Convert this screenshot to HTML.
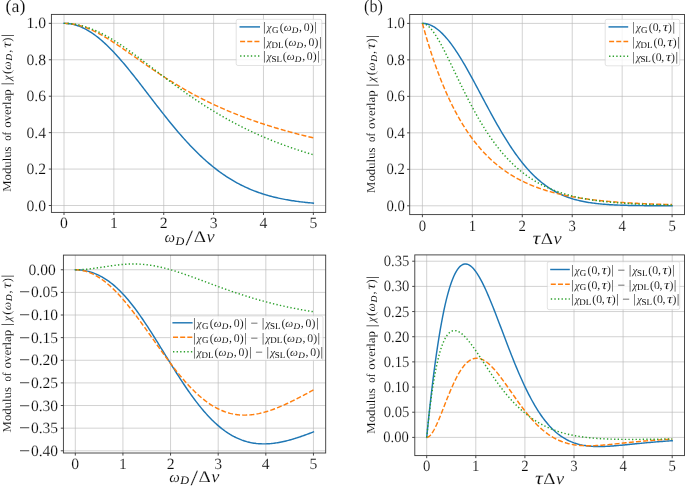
<!DOCTYPE html>
<html lang="en"><head><meta charset="utf-8"><title>Modulus of overlap</title>
<style>html,body{margin:0;padding:0;background:#fff}svg{display:block;will-change:transform}text{fill:#0a0a0a;stroke:#fff;stroke-width:.14px;text-rendering:geometricPrecision}.sm text{stroke-width:.08px}text.sub{stroke:none}</style></head>
<body>
<svg width="685" height="486" viewBox="0 0 685 486" font-family="'Liberation Serif', serif" fill="#000">
<rect width="685" height="486" fill="#fff"/>
<path d="M64.00 14.40V212.40M113.87 14.40V212.40M163.74 14.40V212.40M213.61 14.40V212.40M263.48 14.40V212.40M313.35 14.40V212.40M51.40 205.50H325.70M51.40 169.07H325.70M51.40 132.64H325.70M51.40 96.21H325.70M51.40 59.78H325.70M51.40 23.35H325.70" stroke="#bababa" stroke-width="0.65" fill="none"/>
<path d="M64.00 23.35L65.25 23.37L66.49 23.43L67.74 23.53L68.99 23.67L70.23 23.84L71.48 24.06L72.73 24.31L73.97 24.61L75.22 24.94L76.47 25.31L77.71 25.72L78.96 26.17L80.21 26.65L81.45 27.18L82.70 27.74L83.95 28.33L85.19 28.96L86.44 29.63L87.69 30.33L88.94 31.07L90.18 31.85L91.43 32.65L92.68 33.49L93.92 34.37L95.17 35.27L96.42 36.21L97.66 37.18L98.91 38.18L100.16 39.21L101.40 40.27L102.65 41.36L103.90 42.47L105.14 43.61L106.39 44.79L107.64 45.98L108.88 47.20L110.13 48.45L111.38 49.72L112.62 51.01L113.87 52.33L115.12 53.67L116.36 55.03L117.61 56.41L118.86 57.80L120.10 59.22L121.35 60.66L122.60 62.11L123.84 63.58L125.09 65.06L126.34 66.56L127.58 68.07L128.83 69.59L130.08 71.13L131.32 72.68L132.57 74.24L133.82 75.80L135.06 77.38L136.31 78.97L137.56 80.56L138.81 82.16L140.05 83.77L141.30 85.38L142.55 86.99L143.79 88.61L145.04 90.23L146.29 91.86L147.53 93.48L148.78 95.11L150.03 96.73L151.27 98.36L152.52 99.98L153.77 101.60L155.01 103.22L156.26 104.84L157.51 106.45L158.75 108.06L160.00 109.66L161.25 111.25L162.49 112.84L163.74 114.42L164.99 116.00L166.23 117.57L167.48 119.12L168.73 120.67L169.97 122.21L171.22 123.74L172.47 125.26L173.71 126.76L174.96 128.26L176.21 129.74L177.45 131.21L178.70 132.67L179.95 134.11L181.19 135.54L182.44 136.96L183.69 138.37L184.93 139.75L186.18 141.13L187.43 142.49L188.68 143.83L189.92 145.16L191.17 146.47L192.42 147.77L193.66 149.05L194.91 150.31L196.16 151.56L197.40 152.79L198.65 154.00L199.90 155.20L201.14 156.38L202.39 157.54L203.64 158.68L204.88 159.81L206.13 160.92L207.38 162.01L208.62 163.09L209.87 164.14L211.12 165.18L212.36 166.20L213.61 167.21L214.86 168.19L216.10 169.16L217.35 170.11L218.60 171.05L219.84 171.97L221.09 172.86L222.34 173.75L223.58 174.61L224.83 175.46L226.08 176.29L227.32 177.10L228.57 177.90L229.82 178.68L231.06 179.45L232.31 180.20L233.56 180.93L234.80 181.64L236.05 182.34L237.30 183.03L238.54 183.70L239.79 184.35L241.04 184.99L242.29 185.61L243.53 186.22L244.78 186.81L246.03 187.39L247.27 187.96L248.52 188.51L249.77 189.05L251.01 189.57L252.26 190.08L253.51 190.58L254.75 191.07L256.00 191.54L257.25 192.00L258.49 192.45L259.74 192.88L260.99 193.30L262.23 193.72L263.48 194.12L264.73 194.50L265.97 194.88L267.22 195.25L268.47 195.61L269.71 195.95L270.96 196.29L272.21 196.62L273.45 196.93L274.70 197.24L275.95 197.54L277.19 197.83L278.44 198.11L279.69 198.38L280.93 198.64L282.18 198.89L283.43 199.14L284.67 199.38L285.92 199.61L287.17 199.83L288.41 200.05L289.66 200.26L290.91 200.46L292.16 200.66L293.40 200.84L294.65 201.03L295.90 201.20L297.14 201.37L298.39 201.54L299.64 201.70L300.88 201.85L302.13 202.00L303.38 202.14L304.62 202.28L305.87 202.41L307.12 202.54L308.36 202.66L309.61 202.78L310.86 202.89L312.10 203.00L313.35 203.11" stroke="#1f77b4" stroke-width="1.45" fill="none" stroke-linejoin="round" stroke-linecap="square"/>
<path d="M64.00 23.35L65.25 23.36L66.49 23.41L67.74 23.48L68.99 23.58L70.23 23.70L71.48 23.86L72.73 24.04L73.97 24.25L75.22 24.49L76.47 24.76L77.71 25.05L78.96 25.37L80.21 25.71L81.45 26.08L82.70 26.47L83.95 26.89L85.19 27.33L86.44 27.79L87.69 28.28L88.94 28.79L90.18 29.32L91.43 29.87L92.68 30.44L93.92 31.03L95.17 31.64L96.42 32.27L97.66 32.91L98.91 33.58L100.16 34.25L101.40 34.95L102.65 35.66L103.90 36.38L105.14 37.11L106.39 37.86L107.64 38.62L108.88 39.39L110.13 40.18L111.38 40.97L112.62 41.77L113.87 42.58L115.12 43.40L116.36 44.22L117.61 45.06L118.86 45.90L120.10 46.74L121.35 47.59L122.60 48.45L123.84 49.31L125.09 50.17L126.34 51.04L127.58 51.91L128.83 52.78L130.08 53.65L131.32 54.53L132.57 55.40L133.82 56.28L135.06 57.15L136.31 58.03L137.56 58.91L138.81 59.78L140.05 60.65L141.30 61.53L142.55 62.40L143.79 63.26L145.04 64.13L146.29 64.99L147.53 65.86L148.78 66.71L150.03 67.57L151.27 68.42L152.52 69.27L153.77 70.11L155.01 70.95L156.26 71.78L157.51 72.61L158.75 73.44L160.00 74.26L161.25 75.08L162.49 75.89L163.74 76.70L164.99 77.50L166.23 78.30L167.48 79.09L168.73 79.88L169.97 80.66L171.22 81.44L172.47 82.21L173.71 82.97L174.96 83.73L176.21 84.49L177.45 85.23L178.70 85.98L179.95 86.71L181.19 87.45L182.44 88.17L183.69 88.89L184.93 89.60L186.18 90.31L187.43 91.02L188.68 91.71L189.92 92.40L191.17 93.09L192.42 93.77L193.66 94.44L194.91 95.11L196.16 95.77L197.40 96.43L198.65 97.08L199.90 97.72L201.14 98.36L202.39 99.00L203.64 99.63L204.88 100.25L206.13 100.87L207.38 101.48L208.62 102.09L209.87 102.69L211.12 103.29L212.36 103.88L213.61 104.46L214.86 105.04L216.10 105.62L217.35 106.19L218.60 106.75L219.84 107.31L221.09 107.87L222.34 108.42L223.58 108.96L224.83 109.50L226.08 110.04L227.32 110.57L228.57 111.09L229.82 111.61L231.06 112.13L232.31 112.64L233.56 113.15L234.80 113.65L236.05 114.15L237.30 114.64L238.54 115.13L239.79 115.61L241.04 116.09L242.29 116.57L243.53 117.04L244.78 117.51L246.03 117.97L247.27 118.43L248.52 118.88L249.77 119.34L251.01 119.78L252.26 120.23L253.51 120.66L254.75 121.10L256.00 121.53L257.25 121.96L258.49 122.38L259.74 122.80L260.99 123.22L262.23 123.63L263.48 124.04L264.73 124.45L265.97 124.85L267.22 125.25L268.47 125.64L269.71 126.03L270.96 126.42L272.21 126.81L273.45 127.19L274.70 127.57L275.95 127.94L277.19 128.31L278.44 128.68L279.69 129.05L280.93 129.41L282.18 129.77L283.43 130.13L284.67 130.48L285.92 130.83L287.17 131.18L288.41 131.52L289.66 131.86L290.91 132.20L292.16 132.54L293.40 132.87L294.65 133.20L295.90 133.53L297.14 133.86L298.39 134.18L299.64 134.50L300.88 134.82L302.13 135.13L303.38 135.44L304.62 135.75L305.87 136.06L307.12 136.36L308.36 136.67L309.61 136.97L310.86 137.26L312.10 137.56L313.35 137.85" stroke="#ff7f0e" stroke-width="1.45" fill="none" stroke-linejoin="round" stroke-linecap="butt" stroke-dasharray="5.00 2.16"/>
<path d="M64.00 23.35L65.25 23.36L66.49 23.40L67.74 23.46L68.99 23.54L70.23 23.64L71.48 23.77L72.73 23.93L73.97 24.10L75.22 24.30L76.47 24.52L77.71 24.77L78.96 25.03L80.21 25.32L81.45 25.63L82.70 25.96L83.95 26.32L85.19 26.69L86.44 27.09L87.69 27.51L88.94 27.95L90.18 28.40L91.43 28.88L92.68 29.38L93.92 29.90L95.17 30.43L96.42 30.99L97.66 31.56L98.91 32.15L100.16 32.75L101.40 33.38L102.65 34.02L103.90 34.67L105.14 35.34L106.39 36.03L107.64 36.73L108.88 37.45L110.13 38.18L111.38 38.92L112.62 39.67L113.87 40.44L115.12 41.22L116.36 42.01L117.61 42.82L118.86 43.63L120.10 44.46L121.35 45.29L122.60 46.13L123.84 46.99L125.09 47.85L126.34 48.72L127.58 49.59L128.83 50.48L130.08 51.37L131.32 52.27L132.57 53.17L133.82 54.08L135.06 55.00L136.31 55.92L137.56 56.84L138.81 57.77L140.05 58.70L141.30 59.64L142.55 60.58L143.79 61.52L145.04 62.46L146.29 63.41L147.53 64.36L148.78 65.31L150.03 66.26L151.27 67.21L152.52 68.16L153.77 69.11L155.01 70.06L156.26 71.01L157.51 71.96L158.75 72.91L160.00 73.86L161.25 74.81L162.49 75.76L163.74 76.70L164.99 77.64L166.23 78.58L167.48 79.52L168.73 80.45L169.97 81.39L171.22 82.32L172.47 83.24L173.71 84.16L174.96 85.08L176.21 86.00L177.45 86.91L178.70 87.82L179.95 88.72L181.19 89.62L182.44 90.51L183.69 91.40L184.93 92.29L186.18 93.17L187.43 94.05L188.68 94.92L189.92 95.79L191.17 96.65L192.42 97.50L193.66 98.35L194.91 99.20L196.16 100.04L197.40 100.88L198.65 101.71L199.90 102.53L201.14 103.35L202.39 104.16L203.64 104.97L204.88 105.77L206.13 106.57L207.38 107.36L208.62 108.14L209.87 108.92L211.12 109.69L212.36 110.46L213.61 111.22L214.86 111.97L216.10 112.72L217.35 113.47L218.60 114.20L219.84 114.94L221.09 115.66L222.34 116.38L223.58 117.09L224.83 117.80L226.08 118.50L227.32 119.20L228.57 119.89L229.82 120.58L231.06 121.25L232.31 121.93L233.56 122.59L234.80 123.26L236.05 123.91L237.30 124.56L238.54 125.21L239.79 125.84L241.04 126.48L242.29 127.10L243.53 127.73L244.78 128.34L246.03 128.95L247.27 129.56L248.52 130.16L249.77 130.75L251.01 131.34L252.26 131.92L253.51 132.50L254.75 133.08L256.00 133.64L257.25 134.21L258.49 134.76L259.74 135.32L260.99 135.86L262.23 136.40L263.48 136.94L264.73 137.47L265.97 138.00L267.22 138.52L268.47 139.04L269.71 139.55L270.96 140.06L272.21 140.56L273.45 141.06L274.70 141.55L275.95 142.04L277.19 142.53L278.44 143.01L279.69 143.48L280.93 143.95L282.18 144.42L283.43 144.88L284.67 145.34L285.92 145.79L287.17 146.24L288.41 146.68L289.66 147.12L290.91 147.56L292.16 147.99L293.40 148.42L294.65 148.84L295.90 149.26L297.14 149.68L298.39 150.09L299.64 150.50L300.88 150.91L302.13 151.31L303.38 151.70L304.62 152.10L305.87 152.49L307.12 152.87L308.36 153.25L309.61 153.63L310.86 154.01L312.10 154.38L313.35 154.75" stroke="#2ca02c" stroke-width="1.45" fill="none" stroke-linejoin="round" stroke-linecap="butt" stroke-dasharray="1.35 2.23"/>
<path d="M64.00 212.40v2.6M113.87 212.40v2.6M163.74 212.40v2.6M213.61 212.40v2.6M263.48 212.40v2.6M313.35 212.40v2.6M51.40 205.50h-2.6M51.40 169.07h-2.6M51.40 132.64h-2.6M51.40 96.21h-2.6M51.40 59.78h-2.6M51.40 23.35h-2.6" stroke="#1a1a1a" stroke-width="0.8" fill="none"/>
<rect x="51.40" y="14.40" width="274.30" height="198.00" fill="none" stroke="#383838" stroke-width="0.9"/>
<text x="60.08" y="227.70" font-size="15.70" text-anchor="start" textLength="7.85" lengthAdjust="spacingAndGlyphs">0</text>
<text x="109.95" y="227.70" font-size="15.70" text-anchor="start" textLength="7.85" lengthAdjust="spacingAndGlyphs">1</text>
<text x="159.81" y="227.70" font-size="15.70" text-anchor="start" textLength="7.85" lengthAdjust="spacingAndGlyphs">2</text>
<text x="209.68" y="227.70" font-size="15.70" text-anchor="start" textLength="7.85" lengthAdjust="spacingAndGlyphs">3</text>
<text x="259.56" y="227.70" font-size="15.70" text-anchor="start" textLength="7.85" lengthAdjust="spacingAndGlyphs">4</text>
<text x="309.43" y="227.70" font-size="15.70" text-anchor="start" textLength="7.85" lengthAdjust="spacingAndGlyphs">5</text>
<text x="46.00" y="210.50" font-size="15.70" text-anchor="end" textLength="19.55" lengthAdjust="spacingAndGlyphs">0.0</text>
<text x="46.00" y="174.07" font-size="15.70" text-anchor="end" textLength="19.55" lengthAdjust="spacingAndGlyphs">0.2</text>
<text x="46.00" y="137.64" font-size="15.70" text-anchor="end" textLength="19.55" lengthAdjust="spacingAndGlyphs">0.4</text>
<text x="46.00" y="101.21" font-size="15.70" text-anchor="end" textLength="19.55" lengthAdjust="spacingAndGlyphs">0.6</text>
<text x="46.00" y="64.78" font-size="15.70" text-anchor="end" textLength="19.55" lengthAdjust="spacingAndGlyphs">0.8</text>
<text x="46.00" y="28.35" font-size="15.70" text-anchor="end" textLength="19.55" lengthAdjust="spacingAndGlyphs">1.0</text>
<path d="M422.40 14.50V214.60M472.34 14.50V214.60M522.28 14.50V214.60M572.22 14.50V214.60M622.16 14.50V214.60M672.10 14.50V214.60M409.70 205.80H684.50M409.70 169.32H684.50M409.70 132.84H684.50M409.70 96.36H684.50M409.70 59.88H684.50M409.70 23.40H684.50" stroke="#bababa" stroke-width="0.65" fill="none"/>
<path d="M422.40 23.40L423.65 23.44L424.90 23.56L426.15 23.77L427.39 24.06L428.64 24.43L429.89 24.87L431.14 25.40L432.39 26.01L433.64 26.70L434.88 27.47L436.13 28.31L437.38 29.23L438.63 30.22L439.88 31.28L441.13 32.42L442.38 33.63L443.62 34.90L444.87 36.25L446.12 37.66L447.37 39.13L448.62 40.66L449.87 42.25L451.12 43.90L452.36 45.61L453.61 47.37L454.86 49.18L456.11 51.04L457.36 52.95L458.61 54.90L459.85 56.89L461.10 58.93L462.35 61.00L463.60 63.10L464.85 65.24L466.10 67.41L467.35 69.61L468.59 71.83L469.84 74.08L471.09 76.34L472.34 78.63L473.59 80.93L474.84 83.25L476.09 85.57L477.33 87.91L478.58 90.25L479.83 92.59L481.08 94.94L482.33 97.29L483.58 99.64L484.82 101.98L486.07 104.32L487.32 106.65L488.57 108.97L489.82 111.27L491.07 113.57L492.32 115.85L493.56 118.11L494.81 120.35L496.06 122.58L497.31 124.78L498.56 126.96L499.81 129.12L501.06 131.25L502.30 133.35L503.55 135.43L504.80 137.48L506.05 139.49L507.30 141.48L508.55 143.44L509.79 145.36L511.04 147.25L512.29 149.11L513.54 150.93L514.79 152.72L516.04 154.47L517.29 156.19L518.53 157.87L519.78 159.52L521.03 161.13L522.28 162.70L523.53 164.24L524.78 165.74L526.03 167.20L527.27 168.63L528.52 170.01L529.77 171.37L531.02 172.68L532.27 173.97L533.52 175.21L534.76 176.42L536.01 177.60L537.26 178.74L538.51 179.84L539.76 180.91L541.01 181.95L542.26 182.96L543.50 183.93L544.75 184.87L546.00 185.78L547.25 186.66L548.50 187.50L549.75 188.32L551.00 189.11L552.24 189.87L553.49 190.61L554.74 191.31L555.99 191.99L557.24 192.64L558.49 193.27L559.73 193.88L560.98 194.45L562.23 195.01L563.48 195.54L564.73 196.06L565.98 196.55L567.23 197.02L568.47 197.47L569.72 197.90L570.97 198.31L572.22 198.70L573.47 199.08L574.72 199.43L575.97 199.78L577.21 200.10L578.46 200.41L579.71 200.71L580.96 200.99L582.21 201.26L583.46 201.52L584.70 201.76L585.95 201.99L587.20 202.21L588.45 202.42L589.70 202.61L590.95 202.80L592.20 202.98L593.44 203.15L594.69 203.31L595.94 203.46L597.19 203.60L598.44 203.74L599.69 203.86L600.94 203.98L602.18 204.10L603.43 204.21L604.68 204.31L605.93 204.40L607.18 204.49L608.43 204.58L609.67 204.66L610.92 204.73L612.17 204.80L613.42 204.87L614.67 204.93L615.92 204.99L617.17 205.04L618.41 205.10L619.66 205.14L620.91 205.19L622.16 205.23L623.41 205.27L624.66 205.31L625.91 205.34L627.15 205.38L628.40 205.41L629.65 205.43L630.90 205.46L632.15 205.49L633.40 205.51L634.64 205.53L635.89 205.55L637.14 205.57L638.39 205.59L639.64 205.60L640.89 205.62L642.14 205.63L643.38 205.64L644.63 205.66L645.88 205.67L647.13 205.68L648.38 205.69L649.63 205.70L650.88 205.70L652.12 205.71L653.37 205.72L654.62 205.73L655.87 205.73L657.12 205.74L658.37 205.74L659.62 205.75L660.86 205.75L662.11 205.76L663.36 205.76L664.61 205.76L665.86 205.77L667.11 205.77L668.35 205.77L669.60 205.77L670.85 205.78L672.10 205.78" stroke="#1f77b4" stroke-width="1.45" fill="none" stroke-linejoin="round" stroke-linecap="square"/>
<path d="M422.40 23.40L423.65 27.90L424.90 32.30L426.15 36.58L427.39 40.76L428.64 44.83L429.89 48.81L431.14 52.68L432.39 56.46L433.64 60.15L434.88 63.75L436.13 67.25L437.38 70.67L438.63 74.01L439.88 77.26L441.13 80.44L442.38 83.53L443.62 86.55L444.87 89.50L446.12 92.37L447.37 95.17L448.62 97.90L449.87 100.56L451.12 103.16L452.36 105.70L453.61 108.17L454.86 110.58L456.11 112.93L457.36 115.22L458.61 117.46L459.85 119.64L461.10 121.77L462.35 123.84L463.60 125.87L464.85 127.84L466.10 129.76L467.35 131.64L468.59 133.47L469.84 135.26L471.09 137.00L472.34 138.70L473.59 140.36L474.84 141.97L476.09 143.55L477.33 145.08L478.58 146.58L479.83 148.05L481.08 149.47L482.33 150.86L483.58 152.22L484.82 153.54L486.07 154.83L487.32 156.09L488.57 157.32L489.82 158.51L491.07 159.68L492.32 160.82L493.56 161.93L494.81 163.01L496.06 164.07L497.31 165.10L498.56 166.11L499.81 167.09L501.06 168.04L502.30 168.97L503.55 169.88L504.80 170.77L506.05 171.63L507.30 172.48L508.55 173.30L509.79 174.10L511.04 174.89L512.29 175.65L513.54 176.39L514.79 177.12L516.04 177.83L517.29 178.52L518.53 179.19L519.78 179.85L521.03 180.49L522.28 181.11L523.53 181.72L524.78 182.32L526.03 182.90L527.27 183.46L528.52 184.02L529.77 184.55L531.02 185.08L532.27 185.59L533.52 186.09L534.76 186.58L536.01 187.05L537.26 187.51L538.51 187.96L539.76 188.40L541.01 188.83L542.26 189.25L543.50 189.66L544.75 190.06L546.00 190.45L547.25 190.83L548.50 191.20L549.75 191.56L551.00 191.91L552.24 192.25L553.49 192.59L554.74 192.91L555.99 193.23L557.24 193.54L558.49 193.84L559.73 194.14L560.98 194.43L562.23 194.71L563.48 194.98L564.73 195.25L565.98 195.51L567.23 195.76L568.47 196.01L569.72 196.25L570.97 196.49L572.22 196.72L573.47 196.94L574.72 197.16L575.97 197.38L577.21 197.58L578.46 197.79L579.71 197.98L580.96 198.18L582.21 198.36L583.46 198.55L584.70 198.73L585.95 198.90L587.20 199.07L588.45 199.24L589.70 199.40L590.95 199.56L592.20 199.71L593.44 199.86L594.69 200.01L595.94 200.15L597.19 200.29L598.44 200.43L599.69 200.56L600.94 200.69L602.18 200.82L603.43 200.94L604.68 201.06L605.93 201.18L607.18 201.29L608.43 201.40L609.67 201.51L610.92 201.62L612.17 201.72L613.42 201.82L614.67 201.92L615.92 202.01L617.17 202.11L618.41 202.20L619.66 202.29L620.91 202.37L622.16 202.46L623.41 202.54L624.66 202.62L625.91 202.70L627.15 202.78L628.40 202.85L629.65 202.92L630.90 203.00L632.15 203.06L633.40 203.13L634.64 203.20L635.89 203.26L637.14 203.33L638.39 203.39L639.64 203.45L640.89 203.50L642.14 203.56L643.38 203.62L644.63 203.67L645.88 203.72L647.13 203.77L648.38 203.82L649.63 203.87L650.88 203.92L652.12 203.97L653.37 204.01L654.62 204.06L655.87 204.10L657.12 204.14L658.37 204.18L659.62 204.22L660.86 204.26L662.11 204.30L663.36 204.34L664.61 204.37L665.86 204.41L667.11 204.44L668.35 204.48L669.60 204.51L670.85 204.54L672.10 204.57" stroke="#ff7f0e" stroke-width="1.45" fill="none" stroke-linejoin="round" stroke-linecap="butt" stroke-dasharray="5.00 2.16"/>
<path d="M422.40 23.40L423.65 23.53L424.90 23.92L426.15 24.55L427.39 25.39L428.64 26.43L429.89 27.65L431.14 29.04L432.39 30.58L433.64 32.26L434.88 34.07L436.13 35.99L437.38 38.01L438.63 40.13L439.88 42.33L441.13 44.60L442.38 46.94L443.62 49.33L444.87 51.77L446.12 54.25L447.37 56.77L448.62 59.31L449.87 61.88L451.12 64.46L452.36 67.06L453.61 69.66L454.86 72.27L456.11 74.87L457.36 77.47L458.61 80.06L459.85 82.64L461.10 85.21L462.35 87.76L463.60 90.29L464.85 92.80L466.10 95.29L467.35 97.75L468.59 100.18L469.84 102.59L471.09 104.96L472.34 107.31L473.59 109.62L474.84 111.90L476.09 114.14L477.33 116.35L478.58 118.52L479.83 120.66L481.08 122.76L482.33 124.83L483.58 126.86L484.82 128.85L486.07 130.81L487.32 132.72L488.57 134.60L489.82 136.45L491.07 138.25L492.32 140.02L493.56 141.75L494.81 143.45L496.06 145.11L497.31 146.73L498.56 148.32L499.81 149.87L501.06 151.39L502.30 152.87L503.55 154.32L504.80 155.74L506.05 157.12L507.30 158.47L508.55 159.79L509.79 161.07L511.04 162.33L512.29 163.55L513.54 164.75L514.79 165.91L516.04 167.04L517.29 168.15L518.53 169.23L519.78 170.28L521.03 171.30L522.28 172.30L523.53 173.27L524.78 174.22L526.03 175.14L527.27 176.04L528.52 176.91L529.77 177.76L531.02 178.59L532.27 179.39L533.52 180.18L534.76 180.94L536.01 181.68L537.26 182.40L538.51 183.10L539.76 183.78L541.01 184.44L542.26 185.08L543.50 185.71L544.75 186.32L546.00 186.91L547.25 187.48L548.50 188.04L549.75 188.58L551.00 189.11L552.24 189.62L553.49 190.12L554.74 190.60L555.99 191.07L557.24 191.52L558.49 191.96L559.73 192.39L560.98 192.81L562.23 193.21L563.48 193.60L564.73 193.98L565.98 194.35L567.23 194.71L568.47 195.06L569.72 195.39L570.97 195.72L572.22 196.04L573.47 196.35L574.72 196.64L575.97 196.93L577.21 197.21L578.46 197.49L579.71 197.75L580.96 198.00L582.21 198.25L583.46 198.49L584.70 198.73L585.95 198.95L587.20 199.17L588.45 199.38L589.70 199.59L590.95 199.79L592.20 199.98L593.44 200.17L594.69 200.35L595.94 200.52L597.19 200.69L598.44 200.86L599.69 201.02L600.94 201.17L602.18 201.32L603.43 201.47L604.68 201.61L605.93 201.75L607.18 201.88L608.43 202.01L609.67 202.13L610.92 202.25L612.17 202.37L613.42 202.48L614.67 202.59L615.92 202.69L617.17 202.79L618.41 202.89L619.66 202.99L620.91 203.08L622.16 203.17L623.41 203.26L624.66 203.34L625.91 203.42L627.15 203.50L628.40 203.58L629.65 203.65L630.90 203.72L632.15 203.79L633.40 203.86L634.64 203.92L635.89 203.98L637.14 204.04L638.39 204.10L639.64 204.16L640.89 204.21L642.14 204.27L643.38 204.32L644.63 204.37L645.88 204.41L647.13 204.46L648.38 204.50L649.63 204.55L650.88 204.59L652.12 204.63L653.37 204.67L654.62 204.71L655.87 204.74L657.12 204.78L658.37 204.81L659.62 204.85L660.86 204.88L662.11 204.91L663.36 204.94L664.61 204.97L665.86 205.00L667.11 205.02L668.35 205.05L669.60 205.08L670.85 205.10L672.10 205.12" stroke="#2ca02c" stroke-width="1.45" fill="none" stroke-linejoin="round" stroke-linecap="butt" stroke-dasharray="1.35 2.23"/>
<path d="M422.40 214.60v2.6M472.34 214.60v2.6M522.28 214.60v2.6M572.22 214.60v2.6M622.16 214.60v2.6M672.10 214.60v2.6M409.70 205.80h-2.6M409.70 169.32h-2.6M409.70 132.84h-2.6M409.70 96.36h-2.6M409.70 59.88h-2.6M409.70 23.40h-2.6" stroke="#1a1a1a" stroke-width="0.8" fill="none"/>
<rect x="409.70" y="14.50" width="274.80" height="200.10" fill="none" stroke="#383838" stroke-width="0.9"/>
<text x="418.71" y="231.00" font-size="15.70" text-anchor="start" textLength="7.38" lengthAdjust="spacingAndGlyphs">0</text>
<text x="468.65" y="231.00" font-size="15.70" text-anchor="start" textLength="7.38" lengthAdjust="spacingAndGlyphs">1</text>
<text x="518.59" y="231.00" font-size="15.70" text-anchor="start" textLength="7.38" lengthAdjust="spacingAndGlyphs">2</text>
<text x="568.53" y="231.00" font-size="15.70" text-anchor="start" textLength="7.38" lengthAdjust="spacingAndGlyphs">3</text>
<text x="618.47" y="231.00" font-size="15.70" text-anchor="start" textLength="7.38" lengthAdjust="spacingAndGlyphs">4</text>
<text x="668.41" y="231.00" font-size="15.70" text-anchor="start" textLength="7.38" lengthAdjust="spacingAndGlyphs">5</text>
<text x="404.90" y="210.80" font-size="15.70" text-anchor="end" textLength="18.38" lengthAdjust="spacingAndGlyphs">0.0</text>
<text x="404.90" y="174.32" font-size="15.70" text-anchor="end" textLength="18.38" lengthAdjust="spacingAndGlyphs">0.2</text>
<text x="404.90" y="137.84" font-size="15.70" text-anchor="end" textLength="18.38" lengthAdjust="spacingAndGlyphs">0.4</text>
<text x="404.90" y="101.36" font-size="15.70" text-anchor="end" textLength="18.38" lengthAdjust="spacingAndGlyphs">0.6</text>
<text x="404.90" y="64.88" font-size="15.70" text-anchor="end" textLength="18.38" lengthAdjust="spacingAndGlyphs">0.8</text>
<text x="404.90" y="28.40" font-size="15.70" text-anchor="end" textLength="18.38" lengthAdjust="spacingAndGlyphs">1.0</text>
<path d="M75.30 255.10V453.00M122.93 255.10V453.00M170.56 255.10V453.00M218.19 255.10V453.00M265.82 255.10V453.00M313.45 255.10V453.00M63.40 269.75H325.70M63.40 292.38H325.70M63.40 315.01H325.70M63.40 337.64H325.70M63.40 360.27H325.70M63.40 382.90H325.70M63.40 405.53H325.70M63.40 428.16H325.70M63.40 450.79H325.70" stroke="#bababa" stroke-width="0.65" fill="none"/>
<path d="M75.30 269.75L76.49 269.76L77.68 269.80L78.87 269.87L80.06 269.97L81.25 270.09L82.44 270.24L83.64 270.42L84.83 270.63L86.02 270.87L87.21 271.13L88.40 271.42L89.59 271.75L90.78 272.10L91.97 272.48L93.16 272.89L94.35 273.34L95.54 273.81L96.73 274.32L97.92 274.86L99.11 275.43L100.31 276.03L101.50 276.66L102.69 277.33L103.88 278.03L105.07 278.77L106.26 279.54L107.45 280.35L108.64 281.18L109.83 282.06L111.02 282.97L112.21 283.91L113.40 284.89L114.59 285.90L115.79 286.95L116.98 288.04L118.17 289.16L119.36 290.31L120.55 291.50L121.74 292.72L122.93 293.98L124.12 295.27L125.31 296.59L126.50 297.95L127.69 299.34L128.88 300.76L130.07 302.21L131.27 303.69L132.46 305.20L133.65 306.74L134.84 308.31L136.03 309.91L137.22 311.53L138.41 313.18L139.60 314.85L140.79 316.55L141.98 318.27L143.17 320.01L144.36 321.78L145.55 323.56L146.75 325.36L147.94 327.18L149.13 329.02L150.32 330.87L151.51 332.73L152.70 334.61L153.89 336.50L155.08 338.40L156.27 340.31L157.46 342.22L158.65 344.15L159.84 346.08L161.03 348.01L162.22 349.95L163.42 351.88L164.61 353.82L165.80 355.76L166.99 357.70L168.18 359.63L169.37 361.56L170.56 363.49L171.75 365.40L172.94 367.31L174.13 369.22L175.32 371.11L176.51 372.99L177.70 374.86L178.90 376.71L180.09 378.56L181.28 380.38L182.47 382.20L183.66 383.99L184.85 385.77L186.04 387.53L187.23 389.27L188.42 390.99L189.61 392.68L190.80 394.36L191.99 396.01L193.18 397.65L194.38 399.25L195.57 400.84L196.76 402.39L197.95 403.93L199.14 405.43L200.33 406.91L201.52 408.36L202.71 409.79L203.90 411.19L205.09 412.55L206.28 413.89L207.47 415.21L208.66 416.49L209.85 417.74L211.05 418.96L212.24 420.15L213.43 421.32L214.62 422.45L215.81 423.55L217.00 424.62L218.19 425.66L219.38 426.67L220.57 427.65L221.76 428.60L222.95 429.51L224.14 430.40L225.33 431.26L226.53 432.08L227.72 432.88L228.91 433.64L230.10 434.38L231.29 435.08L232.48 435.76L233.67 436.41L234.86 437.02L236.05 437.61L237.24 438.17L238.43 438.70L239.62 439.20L240.81 439.68L242.00 440.13L243.20 440.55L244.39 440.94L245.58 441.31L246.77 441.65L247.96 441.96L249.15 442.25L250.34 442.52L251.53 442.76L252.72 442.97L253.91 443.16L255.10 443.33L256.29 443.48L257.48 443.60L258.68 443.70L259.87 443.78L261.06 443.84L262.25 443.88L263.44 443.90L264.63 443.89L265.82 443.87L267.01 443.83L268.20 443.77L269.39 443.69L270.58 443.60L271.77 443.48L272.96 443.36L274.16 443.21L275.35 443.05L276.54 442.87L277.73 442.68L278.92 442.47L280.11 442.25L281.30 442.02L282.49 441.77L283.68 441.51L284.87 441.23L286.06 440.95L287.25 440.65L288.44 440.34L289.63 440.02L290.83 439.69L292.02 439.35L293.21 439.00L294.40 438.65L295.59 438.28L296.78 437.90L297.97 437.51L299.16 437.12L300.35 436.72L301.54 436.31L302.73 435.90L303.92 435.48L305.11 435.05L306.31 434.61L307.50 434.17L308.69 433.73L309.88 433.28L311.07 432.82L312.26 432.36L313.45 431.89" stroke="#1f77b4" stroke-width="1.45" fill="none" stroke-linejoin="round" stroke-linecap="square"/>
<path d="M75.30 269.75L76.49 269.77L77.68 269.83L78.87 269.93L80.06 270.07L81.25 270.24L82.44 270.46L83.64 270.71L84.83 271.01L86.02 271.34L87.21 271.71L88.40 272.13L89.59 272.57L90.78 273.06L91.97 273.59L93.16 274.15L94.35 274.75L95.54 275.39L96.73 276.06L97.92 276.77L99.11 277.52L100.31 278.30L101.50 279.12L102.69 279.97L103.88 280.86L105.07 281.78L106.26 282.73L107.45 283.72L108.64 284.74L109.83 285.79L111.02 286.87L112.21 287.99L113.40 289.13L114.59 290.30L115.79 291.51L116.98 292.74L118.17 294.00L119.36 295.28L120.55 296.59L121.74 297.93L122.93 299.29L124.12 300.68L125.31 302.08L126.50 303.51L127.69 304.97L128.88 306.44L130.07 307.93L131.27 309.44L132.46 310.97L133.65 312.51L134.84 314.07L136.03 315.65L137.22 317.24L138.41 318.84L139.60 320.46L140.79 322.09L141.98 323.72L143.17 325.37L144.36 327.03L145.55 328.69L146.75 330.36L147.94 332.03L149.13 333.71L150.32 335.39L151.51 337.07L152.70 338.75L153.89 340.44L155.08 342.12L156.27 343.80L157.46 345.48L158.65 347.16L159.84 348.83L161.03 350.49L162.22 352.15L163.42 353.80L164.61 355.44L165.80 357.07L166.99 358.69L168.18 360.30L169.37 361.90L170.56 363.49L171.75 365.06L172.94 366.61L174.13 368.15L175.32 369.68L176.51 371.19L177.70 372.68L178.90 374.15L180.09 375.60L181.28 377.03L182.47 378.44L183.66 379.83L184.85 381.20L186.04 382.54L187.23 383.86L188.42 385.16L189.61 386.44L190.80 387.69L191.99 388.91L193.18 390.11L194.38 391.28L195.57 392.43L196.76 393.55L197.95 394.64L199.14 395.71L200.33 396.75L201.52 397.76L202.71 398.74L203.90 399.69L205.09 400.62L206.28 401.51L207.47 402.38L208.66 403.22L209.85 404.03L211.05 404.81L212.24 405.56L213.43 406.28L214.62 406.97L215.81 407.63L217.00 408.27L218.19 408.87L219.38 409.45L220.57 409.99L221.76 410.51L222.95 411.00L224.14 411.46L225.33 411.89L226.53 412.29L227.72 412.67L228.91 413.02L230.10 413.34L231.29 413.63L232.48 413.89L233.67 414.13L234.86 414.35L236.05 414.53L237.24 414.69L238.43 414.83L239.62 414.94L240.81 415.02L242.00 415.09L243.20 415.12L244.39 415.14L245.58 415.13L246.77 415.09L247.96 415.04L249.15 414.96L250.34 414.86L251.53 414.74L252.72 414.60L253.91 414.44L255.10 414.26L256.29 414.06L257.48 413.84L258.68 413.61L259.87 413.35L261.06 413.08L262.25 412.79L263.44 412.48L264.63 412.15L265.82 411.81L267.01 411.46L268.20 411.09L269.39 410.70L270.58 410.31L271.77 409.89L272.96 409.47L274.16 409.03L275.35 408.58L276.54 408.11L277.73 407.64L278.92 407.15L280.11 406.66L281.30 406.15L282.49 405.63L283.68 405.11L284.87 404.57L286.06 404.03L287.25 403.48L288.44 402.92L289.63 402.35L290.83 401.77L292.02 401.19L293.21 400.60L294.40 400.01L295.59 399.41L296.78 398.80L297.97 398.19L299.16 397.58L300.35 396.96L301.54 396.33L302.73 395.70L303.92 395.07L305.11 394.44L306.31 393.80L307.50 393.16L308.69 392.51L309.88 391.87L311.07 391.22L312.26 390.57L313.45 389.92" stroke="#ff7f0e" stroke-width="1.45" fill="none" stroke-linejoin="round" stroke-linecap="butt" stroke-dasharray="5.00 2.16"/>
<path d="M75.30 269.75L76.49 269.74L77.68 269.73L78.87 269.70L80.06 269.65L81.25 269.60L82.44 269.53L83.64 269.46L84.83 269.37L86.02 269.27L87.21 269.17L88.40 269.05L89.59 268.92L90.78 268.79L91.97 268.64L93.16 268.49L94.35 268.34L95.54 268.17L96.73 268.01L97.92 267.83L99.11 267.66L100.31 267.48L101.50 267.30L102.69 267.11L103.88 266.93L105.07 266.74L106.26 266.56L107.45 266.38L108.64 266.20L109.83 266.02L111.02 265.84L112.21 265.67L113.40 265.51L114.59 265.35L115.79 265.20L116.98 265.05L118.17 264.91L119.36 264.78L120.55 264.66L121.74 264.54L122.93 264.44L124.12 264.34L125.31 264.26L126.50 264.18L127.69 264.12L128.88 264.07L130.07 264.03L131.27 264.00L132.46 263.98L133.65 263.98L134.84 263.99L136.03 264.01L137.22 264.04L138.41 264.09L139.60 264.14L140.79 264.21L141.98 264.30L143.17 264.39L144.36 264.50L145.55 264.62L146.75 264.76L147.94 264.90L149.13 265.06L150.32 265.23L151.51 265.41L152.70 265.61L153.89 265.81L155.08 266.03L156.27 266.25L157.46 266.49L158.65 266.74L159.84 267.00L161.03 267.27L162.22 267.55L163.42 267.84L164.61 268.13L165.80 268.44L166.99 268.76L168.18 269.08L169.37 269.41L170.56 269.75L171.75 270.10L172.94 270.45L174.13 270.81L175.32 271.18L176.51 271.55L177.70 271.93L178.90 272.32L180.09 272.71L181.28 273.11L182.47 273.51L183.66 273.91L184.85 274.32L186.04 274.73L187.23 275.15L188.42 275.57L189.61 276.00L190.80 276.42L191.99 276.85L193.18 277.28L194.38 277.72L195.57 278.16L196.76 278.59L197.95 279.03L199.14 279.47L200.33 279.91L201.52 280.36L202.71 280.80L203.90 281.24L205.09 281.69L206.28 282.13L207.47 282.58L208.66 283.02L209.85 283.46L211.05 283.91L212.24 284.35L213.43 284.79L214.62 285.23L215.81 285.67L217.00 286.10L218.19 286.54L219.38 286.97L220.57 287.41L221.76 287.84L222.95 288.27L224.14 288.69L225.33 289.12L226.53 289.54L227.72 289.96L228.91 290.38L230.10 290.79L231.29 291.21L232.48 291.62L233.67 292.02L234.86 292.43L236.05 292.83L237.24 293.23L238.43 293.62L239.62 294.01L240.81 294.40L242.00 294.79L243.20 295.17L244.39 295.55L245.58 295.93L246.77 296.30L247.96 296.67L249.15 297.04L250.34 297.40L251.53 297.76L252.72 298.12L253.91 298.47L255.10 298.82L256.29 299.17L257.48 299.51L258.68 299.85L259.87 300.18L261.06 300.52L262.25 300.84L263.44 301.17L264.63 301.49L265.82 301.81L267.01 302.12L268.20 302.43L269.39 302.74L270.58 303.04L271.77 303.34L272.96 303.64L274.16 303.93L275.35 304.22L276.54 304.51L277.73 304.79L278.92 305.07L280.11 305.34L281.30 305.62L282.49 305.88L283.68 306.15L284.87 306.41L286.06 306.67L287.25 306.92L288.44 307.18L289.63 307.42L290.83 307.67L292.02 307.91L293.21 308.15L294.40 308.39L295.59 308.62L296.78 308.85L297.97 309.07L299.16 309.29L300.35 309.51L301.54 309.73L302.73 309.94L303.92 310.15L305.11 310.36L306.31 310.57L307.50 310.77L308.69 310.96L309.88 311.16L311.07 311.35L312.26 311.54L313.45 311.73" stroke="#2ca02c" stroke-width="1.45" fill="none" stroke-linejoin="round" stroke-linecap="butt" stroke-dasharray="1.35 2.23"/>
<path d="M75.30 453.00v2.6M122.93 453.00v2.6M170.56 453.00v2.6M218.19 453.00v2.6M265.82 453.00v2.6M313.45 453.00v2.6M63.40 269.75h-2.6M63.40 292.38h-2.6M63.40 315.01h-2.6M63.40 337.64h-2.6M63.40 360.27h-2.6M63.40 382.90h-2.6M63.40 405.53h-2.6M63.40 428.16h-2.6M63.40 450.79h-2.6" stroke="#1a1a1a" stroke-width="0.8" fill="none"/>
<rect x="63.40" y="255.10" width="262.30" height="197.90" fill="none" stroke="#383838" stroke-width="0.9"/>
<text x="71.38" y="468.80" font-size="15.70" text-anchor="start" textLength="7.85" lengthAdjust="spacingAndGlyphs">0</text>
<text x="119.01" y="468.80" font-size="15.70" text-anchor="start" textLength="7.85" lengthAdjust="spacingAndGlyphs">1</text>
<text x="166.63" y="468.80" font-size="15.70" text-anchor="start" textLength="7.85" lengthAdjust="spacingAndGlyphs">2</text>
<text x="214.26" y="468.80" font-size="15.70" text-anchor="start" textLength="7.85" lengthAdjust="spacingAndGlyphs">3</text>
<text x="261.89" y="468.80" font-size="15.70" text-anchor="start" textLength="7.85" lengthAdjust="spacingAndGlyphs">4</text>
<text x="309.52" y="468.80" font-size="15.70" text-anchor="start" textLength="7.85" lengthAdjust="spacingAndGlyphs">5</text>
<text x="55.80" y="274.75" font-size="15.70" text-anchor="end" textLength="27.20" lengthAdjust="spacingAndGlyphs">0.00</text>
<text x="19.00" y="297.38" font-size="15.70" text-anchor="start" textLength="11.20" lengthAdjust="spacingAndGlyphs" class="sub">−</text>
<text x="58.10" y="297.38" font-size="15.70" text-anchor="end" textLength="27.20" lengthAdjust="spacingAndGlyphs">0.05</text>
<text x="19.00" y="320.01" font-size="15.70" text-anchor="start" textLength="11.20" lengthAdjust="spacingAndGlyphs" class="sub">−</text>
<text x="58.10" y="320.01" font-size="15.70" text-anchor="end" textLength="27.20" lengthAdjust="spacingAndGlyphs">0.10</text>
<text x="19.00" y="342.64" font-size="15.70" text-anchor="start" textLength="11.20" lengthAdjust="spacingAndGlyphs" class="sub">−</text>
<text x="58.10" y="342.64" font-size="15.70" text-anchor="end" textLength="27.20" lengthAdjust="spacingAndGlyphs">0.15</text>
<text x="19.00" y="365.27" font-size="15.70" text-anchor="start" textLength="11.20" lengthAdjust="spacingAndGlyphs" class="sub">−</text>
<text x="58.10" y="365.27" font-size="15.70" text-anchor="end" textLength="27.20" lengthAdjust="spacingAndGlyphs">0.20</text>
<text x="19.00" y="387.90" font-size="15.70" text-anchor="start" textLength="11.20" lengthAdjust="spacingAndGlyphs" class="sub">−</text>
<text x="58.10" y="387.90" font-size="15.70" text-anchor="end" textLength="27.20" lengthAdjust="spacingAndGlyphs">0.25</text>
<text x="19.00" y="410.53" font-size="15.70" text-anchor="start" textLength="11.20" lengthAdjust="spacingAndGlyphs" class="sub">−</text>
<text x="58.10" y="410.53" font-size="15.70" text-anchor="end" textLength="27.20" lengthAdjust="spacingAndGlyphs">0.30</text>
<text x="19.00" y="433.16" font-size="15.70" text-anchor="start" textLength="11.20" lengthAdjust="spacingAndGlyphs" class="sub">−</text>
<text x="58.10" y="433.16" font-size="15.70" text-anchor="end" textLength="27.20" lengthAdjust="spacingAndGlyphs">0.35</text>
<text x="19.00" y="455.79" font-size="15.70" text-anchor="start" textLength="11.20" lengthAdjust="spacingAndGlyphs" class="sub">−</text>
<text x="58.10" y="455.79" font-size="15.70" text-anchor="end" textLength="27.20" lengthAdjust="spacingAndGlyphs">0.40</text>
<path d="M426.70 254.90V455.60M475.80 254.90V455.60M524.90 254.90V455.60M574.00 254.90V455.60M623.10 254.90V455.60M672.20 254.90V455.60M414.80 437.40H684.50M414.80 412.23H684.50M414.80 387.06H684.50M414.80 361.89H684.50M414.80 336.72H684.50M414.80 311.55H684.50M414.80 286.38H684.50M414.80 261.21H684.50" stroke="#bababa" stroke-width="0.65" fill="none"/>
<path d="M426.70 437.40L427.93 425.08L429.15 413.30L430.38 402.05L431.61 391.31L432.84 381.08L434.06 371.35L435.29 362.11L436.52 353.36L437.75 345.08L438.97 337.27L440.20 329.91L441.43 323.01L442.66 316.54L443.88 310.50L445.11 304.88L446.34 299.67L447.57 294.86L448.80 290.44L450.02 286.40L451.25 282.73L452.48 279.43L453.70 276.47L454.93 273.85L456.16 271.57L457.39 269.60L458.62 267.95L459.84 266.59L461.07 265.53L462.30 264.74L463.52 264.23L464.75 263.97L465.98 263.96L467.21 264.18L468.44 264.64L469.66 265.32L470.89 266.20L472.12 267.28L473.34 268.55L474.57 270.00L475.80 271.62L477.03 273.39L478.25 275.32L479.48 277.39L480.71 279.60L481.94 281.92L483.17 284.36L484.39 286.91L485.62 289.55L486.85 292.28L488.07 295.10L489.30 297.99L490.53 300.94L491.76 303.96L492.99 307.02L494.21 310.13L495.44 313.28L496.67 316.46L497.89 319.66L499.12 322.89L500.35 326.12L501.58 329.36L502.81 332.61L504.03 335.85L505.26 339.09L506.49 342.31L507.72 345.51L508.94 348.69L510.17 351.85L511.40 354.98L512.62 358.07L513.85 361.13L515.08 364.15L516.31 367.13L517.53 370.06L518.76 372.94L519.99 375.78L521.22 378.56L522.44 381.29L523.67 383.96L524.90 386.58L526.13 389.14L527.36 391.63L528.58 394.07L529.81 396.45L531.04 398.76L532.26 401.01L533.49 403.20L534.72 405.32L535.95 407.38L537.17 409.37L538.40 411.31L539.63 413.17L540.86 414.98L542.09 416.72L543.31 418.40L544.54 420.02L545.77 421.58L547.00 423.07L548.22 424.51L549.45 425.89L550.68 427.21L551.90 428.47L553.13 429.68L554.36 430.83L555.59 431.93L556.82 432.98L558.04 433.98L559.27 434.92L560.50 435.82L561.73 436.67L562.95 437.48L564.18 438.24L565.41 438.95L566.63 439.63L567.86 440.26L569.09 440.86L570.32 441.41L571.54 441.93L572.77 442.42L574.00 442.87L575.23 443.28L576.46 443.67L577.68 444.03L578.91 444.35L580.14 444.65L581.37 444.92L582.59 445.17L583.82 445.39L585.05 445.59L586.27 445.77L587.50 445.92L588.73 446.06L589.96 446.17L591.18 446.27L592.41 446.35L593.64 446.42L594.87 446.47L596.10 446.50L597.32 446.52L598.55 446.53L599.78 446.53L601.00 446.52L602.23 446.49L603.46 446.46L604.69 446.41L605.91 446.36L607.14 446.30L608.37 446.24L609.60 446.16L610.83 446.08L612.05 446.00L613.28 445.91L614.51 445.81L615.74 445.71L616.96 445.61L618.19 445.50L619.42 445.39L620.64 445.28L621.87 445.17L623.10 445.05L624.33 444.93L625.55 444.81L626.78 444.69L628.01 444.57L629.24 444.45L630.47 444.33L631.69 444.20L632.92 444.08L634.15 443.96L635.38 443.83L636.60 443.71L637.83 443.59L639.06 443.47L640.29 443.35L641.51 443.23L642.74 443.11L643.97 443.00L645.19 442.88L646.42 442.77L647.65 442.65L648.88 442.54L650.11 442.43L651.33 442.32L652.56 442.22L653.79 442.11L655.01 442.01L656.24 441.90L657.47 441.80L658.70 441.71L659.92 441.61L661.15 441.51L662.38 441.42L663.61 441.33L664.84 441.24L666.06 441.15L667.29 441.06L668.52 440.98L669.75 440.89L670.97 440.81L672.20 440.73" stroke="#1f77b4" stroke-width="1.45" fill="none" stroke-linejoin="round" stroke-linecap="square"/>
<path d="M426.70 437.40L427.93 437.14L429.15 436.41L430.38 435.26L431.61 433.73L432.84 431.88L434.06 429.75L435.29 427.37L436.52 424.80L437.75 422.06L438.97 419.18L440.20 416.20L441.43 413.15L442.66 410.05L443.88 406.92L445.11 403.79L446.34 400.67L447.57 397.59L448.80 394.56L450.02 391.60L451.25 388.72L452.48 385.93L453.70 383.24L454.93 380.67L456.16 378.21L457.39 375.88L458.62 373.69L459.84 371.63L461.07 369.72L462.30 367.95L463.52 366.33L464.75 364.86L465.98 363.53L467.21 362.36L468.44 361.34L469.66 360.47L470.89 359.74L472.12 359.16L473.34 358.72L474.57 358.42L475.80 358.26L477.03 358.23L478.25 358.33L479.48 358.55L480.71 358.90L481.94 359.36L483.17 359.93L484.39 360.61L485.62 361.40L486.85 362.27L488.07 363.24L489.30 364.30L490.53 365.44L491.76 366.65L492.99 367.93L494.21 369.28L495.44 370.69L496.67 372.15L497.89 373.66L499.12 375.22L500.35 376.82L501.58 378.46L502.81 380.12L504.03 381.81L505.26 383.53L506.49 385.26L507.72 387.00L508.94 388.75L510.17 390.51L511.40 392.28L512.62 394.04L513.85 395.79L515.08 397.54L516.31 399.28L517.53 401.00L518.76 402.70L519.99 404.39L521.22 406.06L522.44 407.70L523.67 409.31L524.90 410.90L526.13 412.46L527.36 413.99L528.58 415.48L529.81 416.94L531.04 418.37L532.26 419.76L533.49 421.11L534.72 422.42L535.95 423.70L537.17 424.94L538.40 426.13L539.63 427.29L540.86 428.41L542.09 429.49L543.31 430.53L544.54 431.52L545.77 432.48L547.00 433.40L548.22 434.28L549.45 435.12L550.68 435.92L551.90 436.68L553.13 437.41L554.36 438.10L555.59 438.75L556.82 439.37L558.04 439.95L559.27 440.50L560.50 441.01L561.73 441.50L562.95 441.95L564.18 442.37L565.41 442.76L566.63 443.12L567.86 443.46L569.09 443.77L570.32 444.05L571.54 444.30L572.77 444.54L574.00 444.75L575.23 444.93L576.46 445.10L577.68 445.25L578.91 445.37L580.14 445.48L581.37 445.57L582.59 445.64L583.82 445.70L585.05 445.74L586.27 445.77L587.50 445.78L588.73 445.79L589.96 445.77L591.18 445.75L592.41 445.72L593.64 445.68L594.87 445.63L596.10 445.56L597.32 445.50L598.55 445.42L599.78 445.34L601.00 445.25L602.23 445.16L603.46 445.06L604.69 444.95L605.91 444.84L607.14 444.73L608.37 444.61L609.60 444.50L610.83 444.37L612.05 444.25L613.28 444.13L614.51 444.00L615.74 443.87L616.96 443.74L618.19 443.61L619.42 443.48L620.64 443.35L621.87 443.22L623.10 443.09L624.33 442.96L625.55 442.83L626.78 442.70L628.01 442.58L629.24 442.45L630.47 442.33L631.69 442.20L632.92 442.08L634.15 441.96L635.38 441.84L636.60 441.73L637.83 441.61L639.06 441.50L640.29 441.39L641.51 441.28L642.74 441.17L643.97 441.06L645.19 440.96L646.42 440.86L647.65 440.76L648.88 440.66L650.11 440.57L651.33 440.47L652.56 440.38L653.79 440.29L655.01 440.21L656.24 440.12L657.47 440.04L658.70 439.96L659.92 439.88L661.15 439.81L662.38 439.73L663.61 439.66L664.84 439.59L666.06 439.52L667.29 439.45L668.52 439.39L669.75 439.33L670.97 439.26L672.20 439.20" stroke="#ff7f0e" stroke-width="1.45" fill="none" stroke-linejoin="round" stroke-linecap="butt" stroke-dasharray="5.00 2.16"/>
<path d="M426.70 437.40L427.93 425.34L429.15 414.29L430.38 404.19L431.61 394.98L432.84 386.60L434.06 379.00L435.29 372.14L436.52 365.96L437.75 360.42L438.97 355.49L440.20 351.11L441.43 347.26L442.66 343.89L443.88 340.98L445.11 338.49L446.34 336.39L447.57 334.66L448.80 333.27L450.02 332.20L451.25 331.41L452.48 330.90L453.70 330.63L454.93 330.59L456.16 330.76L457.39 331.12L458.62 331.66L459.84 332.36L461.07 333.21L462.30 334.19L463.52 335.30L464.75 336.51L465.98 337.82L467.21 339.22L468.44 340.70L469.66 342.25L470.89 343.86L472.12 345.52L473.34 347.23L474.57 348.98L475.80 350.76L477.03 352.57L478.25 354.39L479.48 356.24L480.71 358.10L481.94 359.96L483.17 361.83L484.39 363.69L485.62 365.55L486.85 367.41L488.07 369.26L489.30 371.09L490.53 372.91L491.76 374.71L492.99 376.49L494.21 378.25L495.44 379.99L496.67 381.71L497.89 383.40L499.12 385.06L500.35 386.70L501.58 388.31L502.81 389.89L504.03 391.44L505.26 392.96L506.49 394.45L507.72 395.91L508.94 397.34L510.17 398.74L511.40 400.10L512.62 401.44L513.85 402.74L515.08 404.01L516.31 405.25L517.53 406.46L518.76 407.64L519.99 408.79L521.22 409.91L522.44 410.99L523.67 412.05L524.90 413.08L526.13 414.08L527.36 415.05L528.58 415.99L529.81 416.91L531.04 417.79L532.26 418.65L533.49 419.49L534.72 420.30L535.95 421.08L537.17 421.84L538.40 422.57L539.63 423.28L540.86 423.97L542.09 424.63L543.31 425.28L544.54 425.90L545.77 426.49L547.00 427.07L548.22 427.63L549.45 428.17L550.68 428.69L551.90 429.19L553.13 429.67L554.36 430.14L555.59 430.58L556.82 431.01L558.04 431.43L559.27 431.82L560.50 432.21L561.73 432.58L562.95 432.93L564.18 433.27L565.41 433.59L566.63 433.90L567.86 434.20L569.09 434.49L570.32 434.77L571.54 435.03L572.77 435.28L574.00 435.52L575.23 435.75L576.46 435.97L577.68 436.18L578.91 436.38L580.14 436.57L581.37 436.75L582.59 436.92L583.82 437.09L585.05 437.25L586.27 437.40L587.50 437.54L588.73 437.67L589.96 437.80L591.18 437.92L592.41 438.03L593.64 438.14L594.87 438.24L596.10 438.34L597.32 438.43L598.55 438.51L599.78 438.59L601.00 438.67L602.23 438.74L603.46 438.80L604.69 438.86L605.91 438.92L607.14 438.97L608.37 439.02L609.60 439.07L610.83 439.11L612.05 439.15L613.28 439.18L614.51 439.21L615.74 439.24L616.96 439.27L618.19 439.29L619.42 439.31L620.64 439.33L621.87 439.35L623.10 439.36L624.33 439.37L625.55 439.38L626.78 439.39L628.01 439.39L629.24 439.40L630.47 439.40L631.69 439.40L632.92 439.40L634.15 439.40L635.38 439.39L636.60 439.39L637.83 439.38L639.06 439.37L640.29 439.36L641.51 439.36L642.74 439.34L643.97 439.33L645.19 439.32L646.42 439.31L647.65 439.29L648.88 439.28L650.11 439.26L651.33 439.25L652.56 439.23L653.79 439.22L655.01 439.20L656.24 439.18L657.47 439.16L658.70 439.14L659.92 439.13L661.15 439.11L662.38 439.09L663.61 439.07L664.84 439.05L666.06 439.03L667.29 439.01L668.52 438.99L669.75 438.97L670.97 438.95L672.20 438.93" stroke="#2ca02c" stroke-width="1.45" fill="none" stroke-linejoin="round" stroke-linecap="butt" stroke-dasharray="1.35 2.23"/>
<path d="M426.70 455.60v2.6M475.80 455.60v2.6M524.90 455.60v2.6M574.00 455.60v2.6M623.10 455.60v2.6M672.20 455.60v2.6M414.80 437.40h-2.6M414.80 412.23h-2.6M414.80 387.06h-2.6M414.80 361.89h-2.6M414.80 336.72h-2.6M414.80 311.55h-2.6M414.80 286.38h-2.6M414.80 261.21h-2.6" stroke="#1a1a1a" stroke-width="0.8" fill="none"/>
<rect x="414.80" y="254.90" width="269.70" height="200.70" fill="none" stroke="#383838" stroke-width="0.9"/>
<text x="423.01" y="471.30" font-size="15.70" text-anchor="start" textLength="7.38" lengthAdjust="spacingAndGlyphs">0</text>
<text x="472.11" y="471.30" font-size="15.70" text-anchor="start" textLength="7.38" lengthAdjust="spacingAndGlyphs">1</text>
<text x="521.21" y="471.30" font-size="15.70" text-anchor="start" textLength="7.38" lengthAdjust="spacingAndGlyphs">2</text>
<text x="570.31" y="471.30" font-size="15.70" text-anchor="start" textLength="7.38" lengthAdjust="spacingAndGlyphs">3</text>
<text x="619.41" y="471.30" font-size="15.70" text-anchor="start" textLength="7.38" lengthAdjust="spacingAndGlyphs">4</text>
<text x="668.51" y="471.30" font-size="15.70" text-anchor="start" textLength="7.38" lengthAdjust="spacingAndGlyphs">5</text>
<text x="408.80" y="442.40" font-size="15.70" text-anchor="end" textLength="25.57" lengthAdjust="spacingAndGlyphs">0.00</text>
<text x="409.30" y="417.23" font-size="15.70" text-anchor="end" textLength="25.57" lengthAdjust="spacingAndGlyphs">0.05</text>
<text x="409.30" y="392.06" font-size="15.70" text-anchor="end" textLength="25.57" lengthAdjust="spacingAndGlyphs">0.10</text>
<text x="409.30" y="366.89" font-size="15.70" text-anchor="end" textLength="25.57" lengthAdjust="spacingAndGlyphs">0.15</text>
<text x="409.30" y="341.72" font-size="15.70" text-anchor="end" textLength="25.57" lengthAdjust="spacingAndGlyphs">0.20</text>
<text x="409.30" y="316.55" font-size="15.70" text-anchor="end" textLength="25.57" lengthAdjust="spacingAndGlyphs">0.25</text>
<text x="409.30" y="291.38" font-size="15.70" text-anchor="end" textLength="25.57" lengthAdjust="spacingAndGlyphs">0.30</text>
<text x="409.30" y="266.21" font-size="15.70" text-anchor="end" textLength="25.57" lengthAdjust="spacingAndGlyphs">0.35</text>
<g><text x="169.81" y="242.20" font-size="14.91" font-style="italic" text-anchor="middle">ω</text><text x="175.40" y="244.55" font-size="11.30" font-style="italic" class="sub" textLength="8.82" lengthAdjust="spacingAndGlyphs">D</text><text x="185.63" y="245.34" font-size="21.67" textLength="7.52" lengthAdjust="spacingAndGlyphs">/</text><text x="193.72" y="242.20" font-size="16.17" textLength="12.27" lengthAdjust="spacingAndGlyphs">Δ</text><text x="206.49" y="242.20" font-size="16.96" font-style="italic" textLength="8.13" lengthAdjust="spacingAndGlyphs">ν</text></g>
<g><text x="532.52" y="243.60" font-size="18.05" font-style="italic" textLength="7.75" lengthAdjust="spacingAndGlyphs">τ</text><text x="540.73" y="243.60" font-size="16.17" textLength="12.27" lengthAdjust="spacingAndGlyphs">Δ</text><text x="553.50" y="243.60" font-size="16.96" font-style="italic" textLength="8.13" lengthAdjust="spacingAndGlyphs">ν</text></g>
<g><text x="174.61" y="481.80" font-size="14.91" font-style="italic" text-anchor="middle">ω</text><text x="180.20" y="484.16" font-size="11.30" font-style="italic" class="sub" textLength="8.82" lengthAdjust="spacingAndGlyphs">D</text><text x="190.43" y="484.94" font-size="21.67" textLength="7.52" lengthAdjust="spacingAndGlyphs">/</text><text x="198.52" y="481.80" font-size="16.17" textLength="12.27" lengthAdjust="spacingAndGlyphs">Δ</text><text x="211.29" y="481.80" font-size="16.96" font-style="italic" textLength="8.13" lengthAdjust="spacingAndGlyphs">ν</text></g>
<g><text x="535.07" y="483.80" font-size="18.05" font-style="italic" textLength="7.75" lengthAdjust="spacingAndGlyphs">τ</text><text x="543.28" y="483.80" font-size="16.17" textLength="12.27" lengthAdjust="spacingAndGlyphs">Δ</text><text x="556.05" y="483.80" font-size="16.96" font-style="italic" textLength="8.13" lengthAdjust="spacingAndGlyphs">ν</text></g>
<g class="sm" transform="translate(10.50 191.60) rotate(-90)">
<text x="-0.20" y="0.00" font-size="12.10" text-anchor="start" textLength="45.30" lengthAdjust="spacingAndGlyphs">Modulus</text>
<text x="50.80" y="0.00" font-size="12.10" text-anchor="start" textLength="8.90" lengthAdjust="spacingAndGlyphs">of</text>
<text x="63.80" y="0.00" font-size="12.10" text-anchor="start" textLength="38.60" lengthAdjust="spacingAndGlyphs">overlap</text>
<g><text x="107.70" y="0.12" font-size="13.89" text-anchor="middle">|</text><text x="113.65" y="0.00" font-size="11.53" font-style="italic" text-anchor="middle">χ</text><text x="119.64" y="0.00" font-size="12.40" text-anchor="middle">(</text><text x="126.13" y="0.00" font-size="11.78" font-style="italic" text-anchor="middle">ω</text><text x="130.93" y="1.86" font-size="8.93" font-style="italic" class="sub" textLength="6.96" lengthAdjust="spacingAndGlyphs">D</text><text x="140.43" y="0.00" font-size="12.40" text-anchor="middle">,</text><text x="143.89" y="0.00" font-size="13.64" font-style="italic" textLength="5.86" lengthAdjust="spacingAndGlyphs">τ</text><text x="152.01" y="0.00" font-size="12.40" text-anchor="middle">)</text><text x="156.15" y="0.12" font-size="13.89" text-anchor="middle">|</text></g>
</g>
<g class="sm" transform="translate(375.40 192.75) rotate(-90)">
<text x="-0.20" y="0.00" font-size="12.10" text-anchor="start" textLength="45.30" lengthAdjust="spacingAndGlyphs">Modulus</text>
<text x="50.80" y="0.00" font-size="12.10" text-anchor="start" textLength="8.90" lengthAdjust="spacingAndGlyphs">of</text>
<text x="63.80" y="0.00" font-size="12.10" text-anchor="start" textLength="38.60" lengthAdjust="spacingAndGlyphs">overlap</text>
<g><text x="107.70" y="0.12" font-size="13.89" text-anchor="middle">|</text><text x="113.65" y="0.00" font-size="11.53" font-style="italic" text-anchor="middle">χ</text><text x="119.64" y="0.00" font-size="12.40" text-anchor="middle">(</text><text x="126.13" y="0.00" font-size="11.78" font-style="italic" text-anchor="middle">ω</text><text x="130.93" y="1.86" font-size="8.93" font-style="italic" class="sub" textLength="6.96" lengthAdjust="spacingAndGlyphs">D</text><text x="140.43" y="0.00" font-size="12.40" text-anchor="middle">,</text><text x="143.89" y="0.00" font-size="13.64" font-style="italic" textLength="5.86" lengthAdjust="spacingAndGlyphs">τ</text><text x="152.01" y="0.00" font-size="12.40" text-anchor="middle">)</text><text x="156.15" y="0.12" font-size="13.89" text-anchor="middle">|</text></g>
</g>
<g class="sm" transform="translate(10.50 432.25) rotate(-90)">
<text x="-0.20" y="0.00" font-size="12.10" text-anchor="start" textLength="45.30" lengthAdjust="spacingAndGlyphs">Modulus</text>
<text x="50.80" y="0.00" font-size="12.10" text-anchor="start" textLength="8.90" lengthAdjust="spacingAndGlyphs">of</text>
<text x="63.80" y="0.00" font-size="12.10" text-anchor="start" textLength="38.60" lengthAdjust="spacingAndGlyphs">overlap</text>
<g><text x="107.70" y="0.12" font-size="13.89" text-anchor="middle">|</text><text x="113.65" y="0.00" font-size="11.53" font-style="italic" text-anchor="middle">χ</text><text x="119.64" y="0.00" font-size="12.40" text-anchor="middle">(</text><text x="126.13" y="0.00" font-size="11.78" font-style="italic" text-anchor="middle">ω</text><text x="130.93" y="1.86" font-size="8.93" font-style="italic" class="sub" textLength="6.96" lengthAdjust="spacingAndGlyphs">D</text><text x="140.43" y="0.00" font-size="12.40" text-anchor="middle">,</text><text x="143.89" y="0.00" font-size="13.64" font-style="italic" textLength="5.86" lengthAdjust="spacingAndGlyphs">τ</text><text x="152.01" y="0.00" font-size="12.40" text-anchor="middle">)</text><text x="156.15" y="0.12" font-size="13.89" text-anchor="middle">|</text></g>
</g>
<g class="sm" transform="translate(375.40 433.45) rotate(-90)">
<text x="-0.20" y="0.00" font-size="12.10" text-anchor="start" textLength="45.30" lengthAdjust="spacingAndGlyphs">Modulus</text>
<text x="50.80" y="0.00" font-size="12.10" text-anchor="start" textLength="8.90" lengthAdjust="spacingAndGlyphs">of</text>
<text x="63.80" y="0.00" font-size="12.10" text-anchor="start" textLength="38.60" lengthAdjust="spacingAndGlyphs">overlap</text>
<g><text x="107.70" y="0.12" font-size="13.89" text-anchor="middle">|</text><text x="113.65" y="0.00" font-size="11.53" font-style="italic" text-anchor="middle">χ</text><text x="119.64" y="0.00" font-size="12.40" text-anchor="middle">(</text><text x="126.13" y="0.00" font-size="11.78" font-style="italic" text-anchor="middle">ω</text><text x="130.93" y="1.86" font-size="8.93" font-style="italic" class="sub" textLength="6.96" lengthAdjust="spacingAndGlyphs">D</text><text x="140.43" y="0.00" font-size="12.40" text-anchor="middle">,</text><text x="143.89" y="0.00" font-size="13.64" font-style="italic" textLength="5.86" lengthAdjust="spacingAndGlyphs">τ</text><text x="152.01" y="0.00" font-size="12.40" text-anchor="middle">)</text><text x="156.15" y="0.12" font-size="13.89" text-anchor="middle">|</text></g>
</g>
<text x="5.60" y="12.30" font-size="18.00" text-anchor="start" textLength="19.80" lengthAdjust="spacingAndGlyphs">(a)</text>
<text x="364.00" y="12.30" font-size="18.00" text-anchor="start" textLength="18.90" lengthAdjust="spacingAndGlyphs">(b)</text>
<rect x="236.20" y="19.30" width="85.60" height="46.20" rx="1.8" fill="#fff" fill-opacity="0.8" stroke="#ccc" stroke-opacity="0.7" stroke-width="0.8"/>
<path d="M239.50 26.90H260.00" stroke="#1f77b4" stroke-width="1.45" fill="none"/>
<g class="sm"><text x="264.33" y="31.32" font-size="13.16" text-anchor="middle">|</text><text x="269.20" y="31.20" font-size="10.93" font-style="italic" text-anchor="middle">χ</text><text x="275.33" y="32.96" font-size="8.97" class="sub" text-anchor="middle">G</text><text x="281.76" y="31.20" font-size="11.75" text-anchor="middle">(</text><text x="287.63" y="31.20" font-size="11.16" font-style="italic" text-anchor="middle">ω</text><text x="291.82" y="32.96" font-size="8.46" font-style="italic" class="sub" textLength="6.60" lengthAdjust="spacingAndGlyphs">D</text><text x="300.58" y="31.20" font-size="11.75" text-anchor="middle">,</text><text x="306.71" y="31.20" font-size="11.75" text-anchor="middle">0</text><text x="311.77" y="31.20" font-size="11.75" text-anchor="middle">)</text><text x="315.51" y="31.32" font-size="13.16" text-anchor="middle">|</text></g>
<path d="M239.50 41.50H260.00" stroke="#ff7f0e" stroke-width="1.45" fill="none" stroke-dasharray="5.00 2.16" stroke-dashoffset="-0.6"/>
<g class="sm"><text x="264.33" y="45.92" font-size="13.16" text-anchor="middle">|</text><text x="269.20" y="45.80" font-size="10.93" font-style="italic" text-anchor="middle">χ</text><text x="274.74" y="47.56" font-size="8.97" class="sub" text-anchor="middle">D</text><text x="280.83" y="47.56" font-size="8.97" class="sub" text-anchor="middle">L</text><text x="286.50" y="45.80" font-size="11.75" text-anchor="middle">(</text><text x="292.37" y="45.80" font-size="11.16" font-style="italic" text-anchor="middle">ω</text><text x="296.55" y="47.56" font-size="8.46" font-style="italic" class="sub" textLength="6.60" lengthAdjust="spacingAndGlyphs">D</text><text x="305.32" y="45.80" font-size="11.75" text-anchor="middle">,</text><text x="311.45" y="45.80" font-size="11.75" text-anchor="middle">0</text><text x="316.50" y="45.80" font-size="11.75" text-anchor="middle">)</text><text x="320.25" y="45.92" font-size="13.16" text-anchor="middle">|</text></g>
<path d="M239.50 56.00H260.00" stroke="#2ca02c" stroke-width="1.45" fill="none" stroke-dasharray="1.35 2.23" stroke-dashoffset="-0.6"/>
<g class="sm"><text x="264.33" y="60.42" font-size="13.16" text-anchor="middle">|</text><text x="269.20" y="60.30" font-size="10.93" font-style="italic" text-anchor="middle">χ</text><text x="273.89" y="62.06" font-size="8.97" class="sub" text-anchor="middle">S</text><text x="279.14" y="62.06" font-size="8.97" class="sub" text-anchor="middle">L</text><text x="284.80" y="60.30" font-size="11.75" text-anchor="middle">(</text><text x="290.68" y="60.30" font-size="11.16" font-style="italic" text-anchor="middle">ω</text><text x="294.86" y="62.06" font-size="8.46" font-style="italic" class="sub" textLength="6.60" lengthAdjust="spacingAndGlyphs">D</text><text x="303.63" y="60.30" font-size="11.75" text-anchor="middle">,</text><text x="309.76" y="60.30" font-size="11.75" text-anchor="middle">0</text><text x="314.81" y="60.30" font-size="11.75" text-anchor="middle">)</text><text x="318.56" y="60.42" font-size="13.16" text-anchor="middle">|</text></g>
<rect x="605.20" y="19.30" width="74.50" height="46.50" rx="1.8" fill="#fff" fill-opacity="0.8" stroke="#ccc" stroke-opacity="0.7" stroke-width="0.8"/>
<path d="M608.50 26.90H628.20" stroke="#1f77b4" stroke-width="1.45" fill="none"/>
<g class="sm"><text x="633.51" y="31.32" font-size="13.16" text-anchor="middle">|</text><text x="638.31" y="31.20" font-size="10.93" font-style="italic" text-anchor="middle">χ</text><text x="644.34" y="32.96" font-size="8.97" class="sub" text-anchor="middle">G</text><text x="650.67" y="31.20" font-size="11.75" text-anchor="middle">(</text><text x="655.65" y="31.20" font-size="11.75" text-anchor="middle">0</text><text x="659.76" y="31.20" font-size="11.75" text-anchor="middle">,</text><text x="662.68" y="31.20" font-size="12.93" font-style="italic" textLength="5.55" lengthAdjust="spacingAndGlyphs">τ</text><text x="670.08" y="31.20" font-size="11.75" text-anchor="middle">)</text><text x="673.77" y="31.32" font-size="13.16" text-anchor="middle">|</text></g>
<path d="M608.50 41.50H628.20" stroke="#ff7f0e" stroke-width="1.45" fill="none" stroke-dasharray="5.00 2.16" stroke-dashoffset="-0.6"/>
<g class="sm"><text x="633.51" y="45.92" font-size="13.16" text-anchor="middle">|</text><text x="638.31" y="45.80" font-size="10.93" font-style="italic" text-anchor="middle">χ</text><text x="643.76" y="47.56" font-size="8.97" class="sub" text-anchor="middle">D</text><text x="649.76" y="47.56" font-size="8.97" class="sub" text-anchor="middle">L</text><text x="655.34" y="45.80" font-size="11.75" text-anchor="middle">(</text><text x="660.32" y="45.80" font-size="11.75" text-anchor="middle">0</text><text x="664.42" y="45.80" font-size="11.75" text-anchor="middle">,</text><text x="667.34" y="45.80" font-size="12.93" font-style="italic" textLength="5.55" lengthAdjust="spacingAndGlyphs">τ</text><text x="674.75" y="45.80" font-size="11.75" text-anchor="middle">)</text><text x="678.44" y="45.92" font-size="13.16" text-anchor="middle">|</text></g>
<path d="M608.50 56.20H628.20" stroke="#2ca02c" stroke-width="1.45" fill="none" stroke-dasharray="1.35 2.23" stroke-dashoffset="-0.6"/>
<g class="sm"><text x="633.51" y="60.62" font-size="13.16" text-anchor="middle">|</text><text x="638.31" y="60.50" font-size="10.93" font-style="italic" text-anchor="middle">χ</text><text x="642.92" y="62.26" font-size="8.97" class="sub" text-anchor="middle">S</text><text x="648.09" y="62.26" font-size="8.97" class="sub" text-anchor="middle">L</text><text x="653.67" y="60.50" font-size="11.75" text-anchor="middle">(</text><text x="658.65" y="60.50" font-size="11.75" text-anchor="middle">0</text><text x="662.76" y="60.50" font-size="11.75" text-anchor="middle">,</text><text x="665.68" y="60.50" font-size="12.93" font-style="italic" textLength="5.55" lengthAdjust="spacingAndGlyphs">τ</text><text x="673.08" y="60.50" font-size="11.75" text-anchor="middle">)</text><text x="676.77" y="60.62" font-size="13.16" text-anchor="middle">|</text></g>
<rect x="170.50" y="316.00" width="152.50" height="44.40" rx="1.8" fill="#fff" fill-opacity="0.8" stroke="#ccc" stroke-opacity="0.7" stroke-width="0.8"/>
<path d="M172.40 322.80H192.60" stroke="#1f77b4" stroke-width="1.45" fill="none"/>
<g class="sm"><text x="194.33" y="327.22" font-size="13.16" text-anchor="middle">|</text><text x="199.20" y="327.10" font-size="10.93" font-style="italic" text-anchor="middle">χ</text><text x="205.33" y="328.86" font-size="8.97" class="sub" text-anchor="middle">G</text><text x="211.76" y="327.10" font-size="11.75" text-anchor="middle">(</text><text x="217.63" y="327.10" font-size="11.16" font-style="italic" text-anchor="middle">ω</text><text x="221.82" y="328.86" font-size="8.46" font-style="italic" class="sub" textLength="6.60" lengthAdjust="spacingAndGlyphs">D</text><text x="230.58" y="327.10" font-size="11.75" text-anchor="middle">,</text><text x="236.71" y="327.10" font-size="11.75" text-anchor="middle">0</text><text x="241.77" y="327.10" font-size="11.75" text-anchor="middle">)</text><text x="245.51" y="327.22" font-size="13.16" text-anchor="middle">|</text><text x="250.43" y="327.10" font-size="11.75" class="sub" textLength="7.62" lengthAdjust="spacingAndGlyphs">−</text><text x="262.97" y="327.22" font-size="13.16" text-anchor="middle">|</text><text x="267.84" y="327.10" font-size="10.93" font-style="italic" text-anchor="middle">χ</text><text x="272.53" y="328.86" font-size="8.97" class="sub" text-anchor="middle">S</text><text x="277.78" y="328.86" font-size="8.97" class="sub" text-anchor="middle">L</text><text x="283.45" y="327.10" font-size="11.75" text-anchor="middle">(</text><text x="289.32" y="327.10" font-size="11.16" font-style="italic" text-anchor="middle">ω</text><text x="293.50" y="328.86" font-size="8.46" font-style="italic" class="sub" textLength="6.60" lengthAdjust="spacingAndGlyphs">D</text><text x="302.27" y="327.10" font-size="11.75" text-anchor="middle">,</text><text x="308.40" y="327.10" font-size="11.75" text-anchor="middle">0</text><text x="313.45" y="327.10" font-size="11.75" text-anchor="middle">)</text><text x="317.20" y="327.22" font-size="13.16" text-anchor="middle">|</text></g>
<path d="M172.40 337.30H192.60" stroke="#ff7f0e" stroke-width="1.45" fill="none" stroke-dasharray="5.00 2.16" stroke-dashoffset="-0.6"/>
<g class="sm"><text x="194.33" y="341.72" font-size="13.16" text-anchor="middle">|</text><text x="199.20" y="341.60" font-size="10.93" font-style="italic" text-anchor="middle">χ</text><text x="205.33" y="343.36" font-size="8.97" class="sub" text-anchor="middle">G</text><text x="211.76" y="341.60" font-size="11.75" text-anchor="middle">(</text><text x="217.63" y="341.60" font-size="11.16" font-style="italic" text-anchor="middle">ω</text><text x="221.82" y="343.36" font-size="8.46" font-style="italic" class="sub" textLength="6.60" lengthAdjust="spacingAndGlyphs">D</text><text x="230.58" y="341.60" font-size="11.75" text-anchor="middle">,</text><text x="236.71" y="341.60" font-size="11.75" text-anchor="middle">0</text><text x="241.77" y="341.60" font-size="11.75" text-anchor="middle">)</text><text x="245.51" y="341.72" font-size="13.16" text-anchor="middle">|</text><text x="250.43" y="341.60" font-size="11.75" class="sub" textLength="7.62" lengthAdjust="spacingAndGlyphs">−</text><text x="262.97" y="341.72" font-size="13.16" text-anchor="middle">|</text><text x="267.84" y="341.60" font-size="10.93" font-style="italic" text-anchor="middle">χ</text><text x="273.38" y="343.36" font-size="8.97" class="sub" text-anchor="middle">D</text><text x="279.47" y="343.36" font-size="8.97" class="sub" text-anchor="middle">L</text><text x="285.14" y="341.60" font-size="11.75" text-anchor="middle">(</text><text x="291.01" y="341.60" font-size="11.16" font-style="italic" text-anchor="middle">ω</text><text x="295.20" y="343.36" font-size="8.46" font-style="italic" class="sub" textLength="6.60" lengthAdjust="spacingAndGlyphs">D</text><text x="303.96" y="341.60" font-size="11.75" text-anchor="middle">,</text><text x="310.09" y="341.60" font-size="11.75" text-anchor="middle">0</text><text x="315.14" y="341.60" font-size="11.75" text-anchor="middle">)</text><text x="318.89" y="341.72" font-size="13.16" text-anchor="middle">|</text></g>
<path d="M172.40 351.80H192.60" stroke="#2ca02c" stroke-width="1.45" fill="none" stroke-dasharray="1.35 2.23" stroke-dashoffset="-0.6"/>
<g class="sm"><text x="194.33" y="356.22" font-size="13.16" text-anchor="middle">|</text><text x="199.20" y="356.10" font-size="10.93" font-style="italic" text-anchor="middle">χ</text><text x="204.74" y="357.86" font-size="8.97" class="sub" text-anchor="middle">D</text><text x="210.83" y="357.86" font-size="8.97" class="sub" text-anchor="middle">L</text><text x="216.50" y="356.10" font-size="11.75" text-anchor="middle">(</text><text x="222.37" y="356.10" font-size="11.16" font-style="italic" text-anchor="middle">ω</text><text x="226.55" y="357.86" font-size="8.46" font-style="italic" class="sub" textLength="6.60" lengthAdjust="spacingAndGlyphs">D</text><text x="235.32" y="356.10" font-size="11.75" text-anchor="middle">,</text><text x="241.45" y="356.10" font-size="11.75" text-anchor="middle">0</text><text x="246.50" y="356.10" font-size="11.75" text-anchor="middle">)</text><text x="250.25" y="356.22" font-size="13.16" text-anchor="middle">|</text><text x="255.17" y="356.10" font-size="11.75" class="sub" textLength="7.62" lengthAdjust="spacingAndGlyphs">−</text><text x="267.71" y="356.22" font-size="13.16" text-anchor="middle">|</text><text x="272.58" y="356.10" font-size="10.93" font-style="italic" text-anchor="middle">χ</text><text x="277.27" y="357.86" font-size="8.97" class="sub" text-anchor="middle">S</text><text x="282.51" y="357.86" font-size="8.97" class="sub" text-anchor="middle">L</text><text x="288.18" y="356.10" font-size="11.75" text-anchor="middle">(</text><text x="294.06" y="356.10" font-size="11.16" font-style="italic" text-anchor="middle">ω</text><text x="298.24" y="357.86" font-size="8.46" font-style="italic" class="sub" textLength="6.60" lengthAdjust="spacingAndGlyphs">D</text><text x="307.00" y="356.10" font-size="11.75" text-anchor="middle">,</text><text x="313.14" y="356.10" font-size="11.75" text-anchor="middle">0</text><text x="318.19" y="356.10" font-size="11.75" text-anchor="middle">)</text><text x="321.94" y="356.22" font-size="13.16" text-anchor="middle">|</text></g>
<rect x="547.30" y="261.70" width="132.40" height="47.90" rx="1.8" fill="#fff" fill-opacity="0.8" stroke="#ccc" stroke-opacity="0.7" stroke-width="0.8"/>
<path d="M550.20 269.50H569.80" stroke="#1f77b4" stroke-width="1.45" fill="none"/>
<g class="sm"><text x="572.22" y="273.92" font-size="13.16" text-anchor="middle">|</text><text x="577.04" y="273.80" font-size="10.93" font-style="italic" text-anchor="middle">χ</text><text x="583.10" y="275.56" font-size="8.97" class="sub" text-anchor="middle">G</text><text x="589.47" y="273.80" font-size="11.75" text-anchor="middle">(</text><text x="594.47" y="273.80" font-size="11.75" text-anchor="middle">0</text><text x="598.60" y="273.80" font-size="11.75" text-anchor="middle">,</text><text x="601.55" y="273.80" font-size="12.93" font-style="italic" textLength="5.55" lengthAdjust="spacingAndGlyphs">τ</text><text x="608.98" y="273.80" font-size="11.75" text-anchor="middle">)</text><text x="612.69" y="273.92" font-size="13.16" text-anchor="middle">|</text><text x="617.52" y="273.80" font-size="11.75" class="sub" textLength="7.62" lengthAdjust="spacingAndGlyphs">−</text><text x="629.97" y="273.92" font-size="13.16" text-anchor="middle">|</text><text x="634.79" y="273.80" font-size="10.93" font-style="italic" text-anchor="middle">χ</text><text x="639.43" y="275.56" font-size="8.97" class="sub" text-anchor="middle">S</text><text x="644.63" y="275.56" font-size="8.97" class="sub" text-anchor="middle">L</text><text x="650.24" y="273.80" font-size="11.75" text-anchor="middle">(</text><text x="655.24" y="273.80" font-size="11.75" text-anchor="middle">0</text><text x="659.37" y="273.80" font-size="11.75" text-anchor="middle">,</text><text x="662.32" y="273.80" font-size="12.93" font-style="italic" textLength="5.55" lengthAdjust="spacingAndGlyphs">τ</text><text x="669.75" y="273.80" font-size="11.75" text-anchor="middle">)</text><text x="673.46" y="273.92" font-size="13.16" text-anchor="middle">|</text></g>
<path d="M550.20 284.30H569.80" stroke="#ff7f0e" stroke-width="1.45" fill="none" stroke-dasharray="5.00 2.16" stroke-dashoffset="-0.6"/>
<g class="sm"><text x="572.22" y="288.72" font-size="13.16" text-anchor="middle">|</text><text x="577.04" y="288.60" font-size="10.93" font-style="italic" text-anchor="middle">χ</text><text x="583.10" y="290.36" font-size="8.97" class="sub" text-anchor="middle">G</text><text x="589.47" y="288.60" font-size="11.75" text-anchor="middle">(</text><text x="594.47" y="288.60" font-size="11.75" text-anchor="middle">0</text><text x="598.60" y="288.60" font-size="11.75" text-anchor="middle">,</text><text x="601.55" y="288.60" font-size="12.93" font-style="italic" textLength="5.55" lengthAdjust="spacingAndGlyphs">τ</text><text x="608.98" y="288.60" font-size="11.75" text-anchor="middle">)</text><text x="612.69" y="288.72" font-size="13.16" text-anchor="middle">|</text><text x="617.52" y="288.60" font-size="11.75" class="sub" textLength="7.62" lengthAdjust="spacingAndGlyphs">−</text><text x="629.97" y="288.72" font-size="13.16" text-anchor="middle">|</text><text x="634.79" y="288.60" font-size="10.93" font-style="italic" text-anchor="middle">χ</text><text x="640.27" y="290.36" font-size="8.97" class="sub" text-anchor="middle">D</text><text x="646.30" y="290.36" font-size="8.97" class="sub" text-anchor="middle">L</text><text x="651.91" y="288.60" font-size="11.75" text-anchor="middle">(</text><text x="656.92" y="288.60" font-size="11.75" text-anchor="middle">0</text><text x="661.05" y="288.60" font-size="11.75" text-anchor="middle">,</text><text x="663.99" y="288.60" font-size="12.93" font-style="italic" textLength="5.55" lengthAdjust="spacingAndGlyphs">τ</text><text x="671.42" y="288.60" font-size="11.75" text-anchor="middle">)</text><text x="675.13" y="288.72" font-size="13.16" text-anchor="middle">|</text></g>
<path d="M550.20 299.00H569.80" stroke="#2ca02c" stroke-width="1.45" fill="none" stroke-dasharray="1.35 2.23" stroke-dashoffset="-0.6"/>
<g class="sm"><text x="572.22" y="303.42" font-size="13.16" text-anchor="middle">|</text><text x="577.04" y="303.30" font-size="10.93" font-style="italic" text-anchor="middle">χ</text><text x="582.52" y="305.06" font-size="8.97" class="sub" text-anchor="middle">D</text><text x="588.55" y="305.06" font-size="8.97" class="sub" text-anchor="middle">L</text><text x="594.16" y="303.30" font-size="11.75" text-anchor="middle">(</text><text x="599.16" y="303.30" font-size="11.75" text-anchor="middle">0</text><text x="603.29" y="303.30" font-size="11.75" text-anchor="middle">,</text><text x="606.24" y="303.30" font-size="12.93" font-style="italic" textLength="5.55" lengthAdjust="spacingAndGlyphs">τ</text><text x="613.67" y="303.30" font-size="11.75" text-anchor="middle">)</text><text x="617.38" y="303.42" font-size="13.16" text-anchor="middle">|</text><text x="622.21" y="303.30" font-size="11.75" class="sub" textLength="7.62" lengthAdjust="spacingAndGlyphs">−</text><text x="634.66" y="303.42" font-size="13.16" text-anchor="middle">|</text><text x="639.48" y="303.30" font-size="10.93" font-style="italic" text-anchor="middle">χ</text><text x="644.12" y="305.06" font-size="8.97" class="sub" text-anchor="middle">S</text><text x="649.32" y="305.06" font-size="8.97" class="sub" text-anchor="middle">L</text><text x="654.93" y="303.30" font-size="11.75" text-anchor="middle">(</text><text x="659.93" y="303.30" font-size="11.75" text-anchor="middle">0</text><text x="664.06" y="303.30" font-size="11.75" text-anchor="middle">,</text><text x="667.01" y="303.30" font-size="12.93" font-style="italic" textLength="5.55" lengthAdjust="spacingAndGlyphs">τ</text><text x="674.44" y="303.30" font-size="11.75" text-anchor="middle">)</text><text x="678.15" y="303.42" font-size="13.16" text-anchor="middle">|</text></g>
</svg>
</body></html>
